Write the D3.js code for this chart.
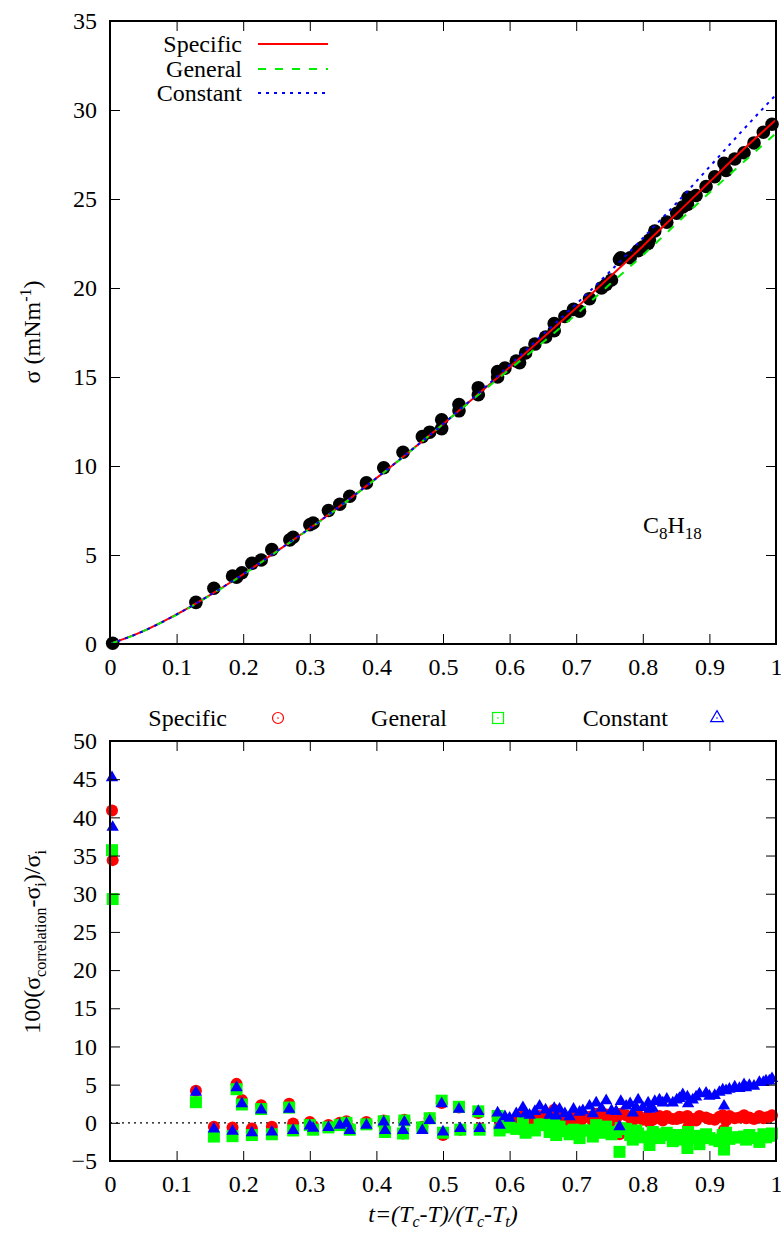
<!DOCTYPE html>
<html><head><meta charset="utf-8">
<script src="https://cdn.jsdelivr.net/npm/d3@7"></script>
<style>
body{margin:0;background:#fff;}
svg text{font-family:'Liberation Serif','Times New Roman',serif !important;fill:#000;}
</style></head><body>
<svg id="c" width="781" height="1236" font-family="Liberation Serif"></svg>
<script>
// ---------- data: top panel (surface tension) ----------
const sigmaT = [0.004,0.129,0.156,0.184,0.19,0.198,0.213,0.227,0.243,0.27,0.275,0.3,0.305,0.328,0.345,0.36,0.385,0.411,0.44,0.469,0.48,0.498,0.498,0.524,0.524,0.553,0.553,0.582,0.582,0.593,0.61,0.615,0.624,0.638,0.654,0.667,0.667,0.683,0.696,0.705,0.72,0.738,0.745,0.753,0.765,0.767,0.781,0.793,0.8,0.808,0.81,0.818,0.836,0.851,0.86,0.867,0.868,0.88,0.895,0.908,0.922,0.925,0.938,0.952,0.967,0.981,0.994];
const sigmaVals = [0.04,2.34,3.13,3.82,3.75,4.0,4.53,4.72,5.3,5.85,6.0,6.7,6.8,7.5,7.85,8.3,9.05,9.9,10.77,11.65,11.9,12.6,12.1,13.45,13.1,14.4,14.0,15.3,15.0,15.5,15.9,15.8,16.35,16.85,17.25,18.0,17.6,18.4,18.8,18.7,19.4,20.0,20.2,20.45,21.6,21.7,21.7,22.1,22.3,22.5,22.7,23.2,23.7,24.2,24.55,24.7,25.1,25.2,25.7,26.25,27.0,26.6,27.25,27.6,28.15,28.75,29.2];
const curveT = [0,0.05,0.1,0.15,0.2,0.25,0.3,0.35,0.4,0.45,0.5,0.55,0.6,0.65,0.7,0.75,0.8,0.85,0.9,0.95,1.0];
const curveSpecific = [0,0.72,1.66,2.75,3.92,5.2,6.5,7.88,9.32,10.82,12.35,13.95,15.55,17.2,18.88,20.6,22.35,24.15,25.95,27.75,29.45];
const curveGeneral  = [0,0.72,1.64,2.73,3.9,5.18,6.48,7.86,9.3,10.8,12.35,13.9,15.43,16.95,18.52,20.19,21.84,23.6,25.35,27.03,28.7];
const curveConstant = [0,0.72,1.66,2.75,3.92,5.2,6.5,7.88,9.32,10.82,12.35,13.98,15.66,17.39,19.1,20.9,22.8,24.75,26.8,28.86,30.86];

// ---------- data: bottom panel (percent deviations) ----------
const devT = [0.003,0.004,0.129,0.156,0.184,0.19,0.198,0.213,0.227,0.243,0.269,0.275,0.3,0.305,0.328,0.345,0.355,0.36,0.385,0.411,0.413,0.44,0.442,0.469,0.48,0.498,0.5,0.524,0.526,0.553,0.555,0.582,0.585,0.593,0.6,0.61,0.62,0.624,0.63,0.638,0.645,0.654,0.66,0.667,0.67,0.675,0.683,0.69,0.696,0.705,0.71,0.72,0.725,0.73,0.738,0.745,0.753,0.76,0.765,0.767,0.775,0.781,0.785,0.79,0.793,0.8,0.808,0.81,0.815,0.818,0.825,0.83,0.836,0.845,0.851,0.855,0.86,0.867,0.868,0.875,0.88,0.885,0.895,0.9,0.908,0.915,0.92,0.922,0.925,0.93,0.938,0.945,0.952,0.955,0.96,0.967,0.975,0.981,0.985,0.99,0.994];
const devSpecific = [40.9,34.4,4.2,-0.5,-0.6,5.1,3.0,-0.75,2.3,-0.5,2.5,-0.1,0.1,-0.4,-0.3,0.0,0.2,-0.7,0.1,0.3,-0.9,-1.4,0.4,-0.5,0.6,2.6,-1.6,2.0,-0.9,1.3,-0.7,0.8,-0.6,0.3,0.2,0.5,0.9,0.6,0.4,0.6,0.9,0.6,0.3,1.7,0.2,1.0,0.5,0.2,0.9,-0.1,0.6,0.8,0.2,1.2,0.5,1.1,0.3,0.6,-1.5,1.2,1.0,0.7,0.3,0.9,1.0,0.4,0.8,0.1,0.4,0.6,0.9,0.3,0.9,0.5,0.5,0.8,0.7,0.9,-0.6,0.5,0.3,0.9,0.7,0.5,0.4,0.8,1.0,-0.9,0.3,0.9,0.6,0.7,1.0,0.6,0.7,0.5,0.9,0.6,0.7,0.8,1.0];
const devGeneral  = [35.7,29.3,2.7,-1.8,-1.75,4.4,2.4,-1.6,1.8,-1.5,2.0,-1.0,-0.3,-0.9,-0.6,-0.3,0.0,-0.9,-0.2,0.2,-1.2,-1.4,0.3,-0.6,0.6,2.9,-1.3,2.1,-0.9,1.5,-0.9,0.9,-1.0,0.0,-0.6,-0.8,0.2,-1.3,-0.9,-1.0,-0.2,-0.3,-1.2,0.0,-1.6,-0.5,-1.1,-1.5,-0.9,-2.0,-1.0,-1.0,-1.8,-0.3,-1.3,-0.5,-1.5,-1.2,-3.8,-0.7,-0.8,-1.6,-2.2,-1.0,-1.4,-1.9,-1.8,-2.9,-1.2,-1.5,-2.0,-1.6,-1.3,-2.4,-1.6,-1.8,-2.2,-3.3,-1.2,-2.0,-1.7,-2.8,-1.5,-2.0,-2.2,-2.4,-1.6,-3.5,-1.3,-2.1,-1.9,-1.9,-1.8,-2.2,-1.6,-2.0,-2.5,-1.5,-1.9,-1.7,-1.4];
const devConstant = [45.2,38.7,4.0,-0.8,-1.1,4.6,2.5,-1.3,1.7,-1.2,1.8,-1.0,-0.4,-0.7,-0.6,-0.3,-0.1,-1.0,-0.3,0.1,-1.0,-1.0,0.1,-1.0,0.3,2.5,-1.2,1.8,-0.75,1.5,-0.75,1.3,-0.3,0.8,0.6,1.2,2.0,1.2,1.0,1.5,2.2,1.7,1.0,1.9,0.9,1.8,1.2,0.8,1.8,1.4,1.6,2.2,1.2,2.6,1.9,2.9,1.6,1.5,-0.5,2.8,2.2,2.5,1.3,2.0,3.0,2.0,2.6,1.8,1.9,2.8,3.0,2.6,3.1,2.6,3.0,3.2,3.7,3.4,2.5,3.0,3.4,3.8,3.9,3.5,3.6,4.0,4.3,2.2,4.2,4.4,4.7,4.5,5.0,4.6,4.9,4.8,5.3,5.3,5.5,5.5,5.8];

const xTicks = [0,0.1,0.2,0.3,0.4,0.5,0.6,0.7,0.8,0.9,1];
const yTicksTop = [0,5,10,15,20,25,30,35];
const yTicksBot = [-5,0,5,10,15,20,25,30,35,40,45,50];

const svg = d3.select("#c");
const FS = 24;
const FF = "'Liberation Serif','Times New Roman',serif";

const L = 110, R = 776;
const xTop = d3.scaleLinear().domain([0,1]).range([L,R]);
const yTop = d3.scaleLinear().domain([0,35]).range([644,21]);
const xBot = d3.scaleLinear().domain([0,1]).range([L,R]);
const yBot = d3.scaleLinear().domain([-5,50]).range([1161,741]);

function axes(x, y, yt) {
  const y0 = y.range()[0], y1 = y.range()[1];
  const fmt = d => d3.format("")(d);
  const gb = svg.append("g").attr("transform",`translate(0,${y0})`)
    .call(d3.axisBottom(x).tickValues(xTicks).tickSize(-10).tickPadding(14).tickFormat(fmt));
  const gt = svg.append("g").attr("transform",`translate(0,${y1})`)
    .call(d3.axisTop(x).tickValues(xTicks).tickSize(-10).tickFormat(""));
  const gl = svg.append("g").attr("transform",`translate(${L},0)`)
    .call(d3.axisLeft(y).tickValues(yt).tickSize(-10).tickPadding(13).tickFormat(fmt));
  const gr = svg.append("g").attr("transform",`translate(${R},0)`)
    .call(d3.axisRight(y).tickValues(yt).tickSize(-10).tickFormat(""));
  [gb,gt,gl,gr].forEach(g=>{
    g.attr("font-family",FF).attr("font-size",FS);
    g.select(".domain").remove();
    g.selectAll("line").attr("stroke","#000").attr("stroke-width",1);
    g.selectAll("text").attr("font-size",FS);
  });
  svg.append("rect").attr("x",L).attr("y",y1).attr("width",R-L).attr("height",y0-y1)
    .attr("fill","none").attr("stroke","#000").attr("stroke-width",2);
}

// ---------- top panel ----------
svg.append("g").selectAll("circle").data(sigmaT).join("circle")
  .attr("cx",(d)=>xTop(d)).attr("cy",(d,i)=>yTop(sigmaVals[i])).attr("r",6.8).attr("fill","#000");

const lineTop = (vals) => d3.line().x((d,i)=>xTop(curveT[i])).y((d)=>yTop(d)).curve(d3.curveMonotoneX)(vals);
svg.append("path").attr("d",lineTop(curveSpecific)).attr("fill","none").attr("stroke","#ff0000").attr("stroke-width",2);
svg.append("path").attr("d",lineTop(curveGeneral)).attr("fill","none").attr("stroke","#00ee00").attr("stroke-width",2).attr("stroke-dasharray","8,9");
svg.append("path").attr("d",lineTop(curveConstant)).attr("fill","none").attr("stroke","#0000ff").attr("stroke-width",2).attr("stroke-dasharray","3,5");

axes(xTop, yTop, yTicksTop);

// top legend
const legTop = [["Specific","#ff0000",null,44],["General","#00ee00","8,9",69],["Constant","#0000ff","3,5",93]];
legTop.forEach(([lab,col,da,yy])=>{
  svg.append("text").attr("x",242).attr("y",yy).attr("dy","0.35em").attr("text-anchor","end").attr("font-size",FS).text(lab);
  const ln = svg.append("line").attr("x1",258).attr("x2",328).attr("y1",yy).attr("y2",yy).attr("stroke",col).attr("stroke-width",2);
  if (da) ln.attr("stroke-dasharray",da);
});

// C8H18
const cl = svg.append("text").attr("x",643).attr("y",533).attr("font-size",FS);
cl.append("tspan").text("C");
cl.append("tspan").attr("font-size",17).attr("dy",6).text("8");
cl.append("tspan").attr("dy",-6).text("H");
cl.append("tspan").attr("font-size",17).attr("dy",6).text("18");

// y label top
const yl = svg.append("text").attr("transform","translate(40,332) rotate(-90)").attr("text-anchor","middle").attr("font-size",FS);
yl.append("tspan").text("σ (mNm");
yl.append("tspan").attr("font-size",16).attr("dy",-9).text("-1");
yl.append("tspan").attr("dy",9).text(")");

// ---------- bottom panel ----------
svg.append("line").attr("x1",L).attr("x2",R).attr("y1",yBot(0)).attr("y2",yBot(0))
  .attr("stroke","#000").attr("stroke-width",1.2).attr("stroke-dasharray","2,4");

svg.append("g").selectAll("circle").data(devT).join("circle")
  .attr("cx",d=>xBot(d)).attr("cy",(d,i)=>yBot(devSpecific[i])).attr("r",6).attr("fill","#ff0000");
svg.append("g").selectAll("rect").data(devT).join("rect")
  .attr("x",d=>xBot(d)-6).attr("y",(d,i)=>yBot(devGeneral[i])-6).attr("width",12).attr("height",12).attr("fill","#00ff00");
const tri = d3.symbol().type(d3.symbolTriangle).size(66);
svg.append("g").selectAll("path").data(devT).join("path")
  .attr("d",tri).attr("transform",(d,i)=>`translate(${xBot(d)},${yBot(devConstant[i])})`).attr("fill","#0000ff");

axes(xBot, yBot, yTicksBot);

// bottom legend
const legY = 718;
[["Specific",227,278,"c","#ff0000"],["General",447,498,"s","#00ff00"],["Constant",668,717,"t","#0000ff"]].forEach(([lab,tx,sx,sh,col])=>{
  svg.append("text").attr("x",tx).attr("y",legY).attr("dy","0.35em").attr("text-anchor","end").attr("font-size",FS).text(lab);
  if (sh==="c") svg.append("circle").attr("cx",sx).attr("cy",legY).attr("r",5.5).attr("fill","none").attr("stroke",col).attr("stroke-width",1.2);
  if (sh==="s") svg.append("rect").attr("x",sx-5.5).attr("y",legY-5.5).attr("width",11).attr("height",11).attr("fill","none").attr("stroke",col).attr("stroke-width",1.2);
  if (sh==="t") svg.append("path").attr("d",d3.symbol().type(d3.symbolTriangle).size(70)()).attr("transform",`translate(${sx},${legY})`).attr("fill","none").attr("stroke",col).attr("stroke-width",1.2);
  svg.append("circle").attr("cx",sx).attr("cy",legY).attr("r",0.8).attr("fill",col);
});

// y label bottom
const yb = svg.append("text").attr("transform","translate(40,942) rotate(-90)").attr("text-anchor","middle").attr("font-size",FS);
yb.append("tspan").text("100(σ");
yb.append("tspan").attr("font-size",16).attr("dy",6).text("correlation");
yb.append("tspan").attr("dy",-6).text("-σ");
yb.append("tspan").attr("font-size",16).attr("dy",6).text("i");
yb.append("tspan").attr("dy",-6).text(")/σ");
yb.append("tspan").attr("font-size",16).attr("dy",6).text("i");

// x label bottom
const xl = svg.append("text").attr("x",443).attr("y",1222).attr("text-anchor","middle").attr("font-size",FS).attr("font-style","italic");
xl.append("tspan").text("t=(T");
xl.append("tspan").attr("font-size",16).attr("dy",5).text("c");
xl.append("tspan").attr("dy",-5).text("-T)/(T");
xl.append("tspan").attr("font-size",16).attr("dy",5).text("c");
xl.append("tspan").attr("dy",-5).text("-T");
xl.append("tspan").attr("font-size",16).attr("dy",5).text("t");
xl.append("tspan").attr("dy",-5).text(")");

svg.selectAll("text").attr("font-family",FF).style("font-family",FF);
</script>
</body></html>
